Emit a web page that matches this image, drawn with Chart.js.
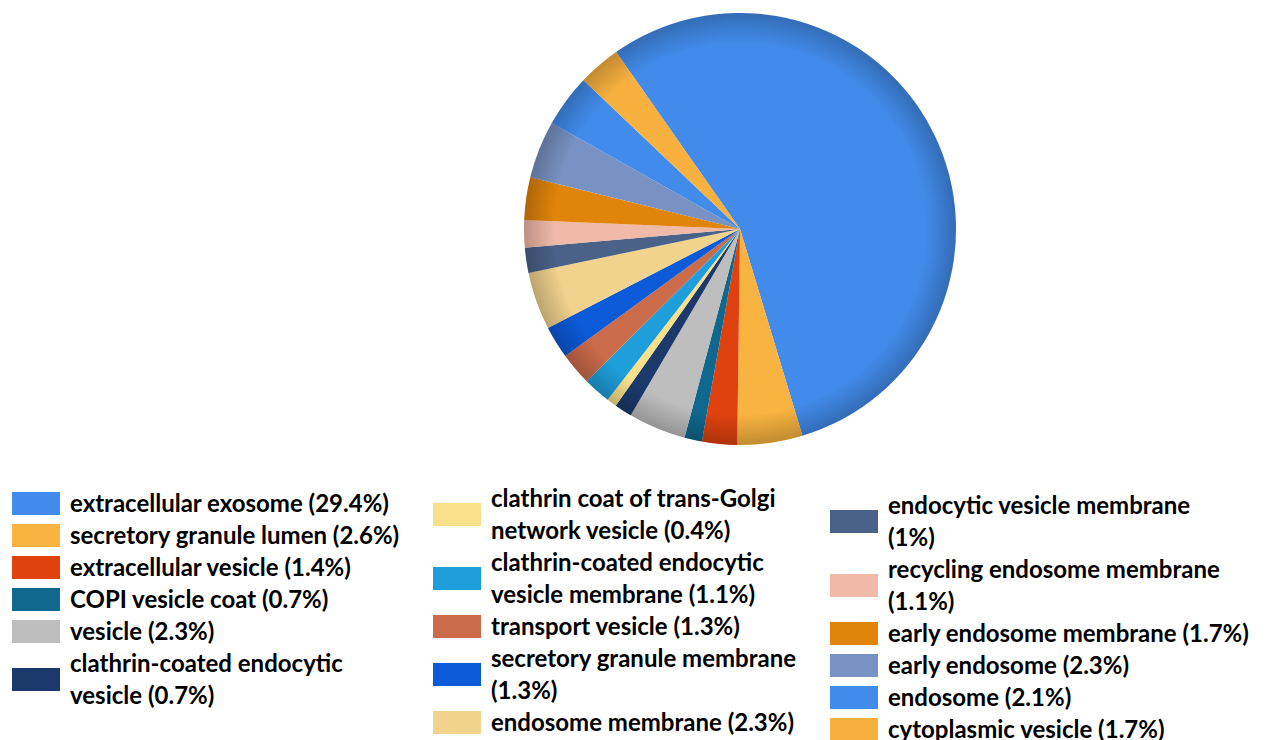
<!DOCTYPE html>
<html>
<head>
<meta charset="utf-8">
<script src="https://cdn.jsdelivr.net/npm/chart.js@4"></script>
<style>
  body { margin:0; background:#fff; font-family: Lato, "Open Sans", sans-serif; }
  #wrap { position:relative; width:1266px; height:740px; }
  #pieBox { position:absolute; left:520px; top:9px; width:440px; height:440px; }
  .col { position:absolute; }
  .item { display:flex; align-items:center; font-weight:bold; font-size:24px; line-height:32px; color:#000; white-space:pre-line; }
  .sw { width:48px; height:23px; flex:none; margin-right:10px; }
</style>
</head>
<body>
<div id="wrap">
  <div id="pieBox"><canvas id="pie"></canvas></div>
  <div class="col" id="col1" style="left:12px; top:487px;"></div>
  <div class="col" id="col2" style="left:433px; top:482px;"></div>
  <div class="col" id="col3" style="left:830px; top:489px;"></div>
</div>
<script>
// categories (legend text, "\n" marks the line break used in the legend)
const categories = [
  "extracellular exosome",
  "secretory granule lumen",
  "extracellular vesicle",
  "COPI vesicle coat",
  "vesicle",
  "clathrin-coated endocytic\nvesicle",
  "clathrin coat of trans-Golgi\nnetwork vesicle",
  "clathrin-coated endocytic\nvesicle membrane",
  "transport vesicle",
  "secretory granule membrane\n",
  "endosome membrane",
  "endocytic vesicle membrane\n",
  "recycling endosome membrane\n",
  "early endosome membrane",
  "early endosome",
  "endosome",
  "cytoplasmic vesicle"
];
// percentages
const values = [29.4, 2.6, 1.4, 0.7, 2.3, 0.7, 0.4, 1.1, 1.3, 1.3, 2.3, 1, 1.1, 1.7, 2.3, 2.1, 1.7];
const colors = [
  "#428BEA", "#F8B340", "#DF420E", "#10688F", "#BEBEBE", "#1B3A6B",
  "#F9E08A", "#1E9FDC", "#CC6B4A", "#0B5AD8", "#F2D38E", "#4A6288",
  "#F0B9A8", "#E0840A", "#7893C3", "#418BEB", "#F8B13F"
];
// which legend column each category goes in
const legendCols = [1,1,1,1,1,1, 2,2,2,2,2, 3,3,3,3,3,3];

// ---------- legend ----------
categories.forEach((c, i) => {
  const it = document.createElement("div");
  it.className = "item";
  const sw = document.createElement("div");
  sw.className = "sw";
  sw.style.background = colors[i];
  const tx = document.createElement("div");
  tx.textContent = c.endsWith("\n") ? c + "(" + values[i] + "%)" : c + " (" + values[i] + "%)";
  it.appendChild(sw);
  it.appendChild(tx);
  document.getElementById("col" + legendCols[i]).appendChild(it);
});

// ---------- rim shading ----------
const rimShade = {
  id: "rimShade",
  afterDatasetsDraw(chart) {
    const arc = chart.getDatasetMeta(0).data[0];
    if (!arc) return;
    const ctx = chart.ctx;
    const r = arc.outerRadius;
    const g = ctx.createRadialGradient(arc.x, arc.y, r * 0.86, arc.x, arc.y, r);
    g.addColorStop(0, "rgba(0,0,0,0)");
    g.addColorStop(1, "rgba(0,0,0,0.22)");
    ctx.save();
    ctx.beginPath();
    ctx.arc(arc.x, arc.y, r, 0, Math.PI * 2);
    ctx.fillStyle = g;
    ctx.fill();
    ctx.restore();
  }
};

new Chart(document.getElementById("pie"), {
  type: "pie",
  data: {
    labels: categories.map(c => c.replace("\n", " ").trim()),
    datasets: [{
      data: values,
      backgroundColor: colors,
      borderWidth: 0
    }]
  },
  options: {
    animation: false,
    responsive: true,
    maintainAspectRatio: false,
    rotation: -35,
    radius: 216,
    plugins: {
      legend: { display: false },
      tooltip: { enabled: false }
    }
  },
  plugins: [rimShade]
});
</script>
</body>
</html>
